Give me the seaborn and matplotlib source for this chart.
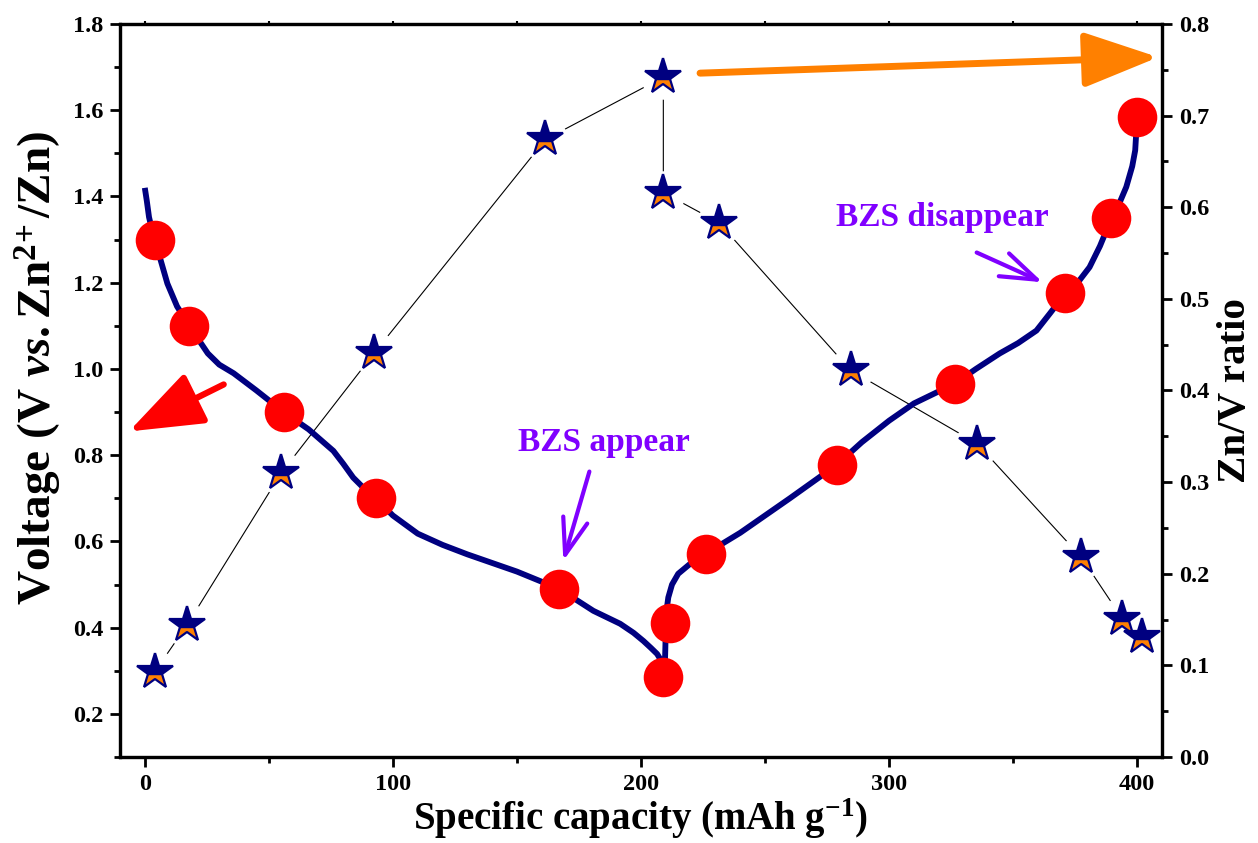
import numpy as np
import pandas as pd
import seaborn as sns
import matplotlib
matplotlib.use("Agg")
import matplotlib.pyplot as plt
from matplotlib.ticker import MultipleLocator, FormatStrFormatter

# ---------------- data ----------------
# voltage profile (discharge then charge)
curve_cap = [0, 0.8, 1.7, 2.8, 4, 6, 9.1, 13, 18, 22, 25.4, 30, 35.8, 45, 56, 66, 72, 76, 80,
             84, 88, 93, 100, 110, 120, 130, 150, 167, 180.8, 191.6, 197, 201, 204, 206.5,
             208.5, 209.5,
             209.8, 210, 210.3, 211, 212.5, 215, 219.8, 226, 240, 260, 279, 289, 300, 310,
             326.5, 335, 344.6, 352, 359.4, 365, 371, 376, 380.8, 385, 389.6, 392.5, 395.6,
             398, 399.2, 400]
curve_v = [1.42, 1.39, 1.352, 1.325, 1.30, 1.26, 1.198, 1.145, 1.10, 1.065, 1.036, 1.01,
           0.99, 0.95, 0.90, 0.86, 0.83, 0.81, 0.78, 0.748, 0.725, 0.70, 0.66, 0.618, 0.592,
           0.57, 0.53, 0.49, 0.439, 0.409, 0.388, 0.369, 0.353, 0.339, 0.32, 0.29,
           0.35, 0.40, 0.44, 0.47, 0.50, 0.525, 0.548, 0.571, 0.62, 0.70, 0.778, 0.83, 0.88,
           0.92, 0.966, 1.0, 1.036, 1.06, 1.089, 1.13, 1.175, 1.20, 1.236, 1.285, 1.349,
           1.38, 1.422, 1.47, 1.507, 1.585]

# sampled points (red circles)
point_cap = [4, 18, 56, 93, 167, 209, 211.5, 226, 279, 326.5, 371, 389.6, 400]
point_v = [1.30, 1.10, 0.90, 0.70, 0.49, 0.286, 0.411, 0.571, 0.778, 0.966, 1.175, 1.349, 1.585]

# Zn/V ratio (stars)
ratio_cap = [4, 17, 55, 92.5, 161.5, 209, 209, 231.5, 284.5, 335.5, 377.5, 394, 402]
ratio_val = [0.093, 0.144, 0.310, 0.441, 0.674, 0.742, 0.616, 0.583, 0.422, 0.342, 0.218, 0.151, 0.131]

x_ticks = [0, 100, 200, 300, 400]
v_ticks = [0.2, 0.4, 0.6, 0.8, 1.0, 1.2, 1.4, 1.6, 1.8]
r_ticks = [0.0, 0.1, 0.2, 0.3, 0.4, 0.5, 0.6, 0.7, 0.8]

# ---------------- style ----------------
sns.set_style("ticks")
plt.rcParams["font.family"] = ["Liberation Serif", "DejaVu Serif"]
plt.rcParams["font.weight"] = "bold"
plt.rcParams["axes.labelweight"] = "bold"
plt.rcParams["text.color"] = "black"
plt.rcParams["axes.labelcolor"] = "black"
plt.rcParams["xtick.color"] = "black"
plt.rcParams["ytick.color"] = "black"
plt.rcParams["mathtext.fontset"] = "custom"
plt.rcParams["mathtext.rm"] = "Liberation Serif:bold"
plt.rcParams["mathtext.bf"] = "Liberation Serif:bold"
plt.rcParams["mathtext.it"] = "Liberation Serif:italic:bold"

NAVY = "#000080"
RED = "#FF0000"
ORANGE = "#FF8000"
PURPLE = "#8000FF"

fig = plt.figure(figsize=(12.58, 8.43), dpi=100)
ax = fig.add_axes([120 / 1258, 1 - 757 / 843, (1162 - 120) / 1258, (757 - 24) / 843])
ax2 = ax.twinx()
ax.set_zorder(ax2.get_zorder() + 1)
ax.patch.set_visible(False)

# ---------------- Zn/V ratio (right axis) ----------------
df_r = pd.DataFrame({"cap": ratio_cap, "ratio": ratio_val})
sns.lineplot(data=df_r, x="cap", y="ratio", ax=ax2, sort=False, estimator=None,
             color="black", linewidth=0.8, zorder=1)
sns.lineplot(data=df_r, x="cap", y="ratio", ax=ax2, sort=False, estimator=None,
             linestyle="none", marker="o", markersize=32, markerfacecolor="white",
             markeredgecolor="white", markeredgewidth=0, zorder=2)
sns.lineplot(data=df_r, x="cap", y="ratio", ax=ax2, sort=False, estimator=None,
             linestyle="none", marker="*", markersize=27, fillstyle="bottom",
             markerfacecolor=ORANGE, markerfacecoloralt=NAVY,
             markeredgecolor=NAVY, markeredgewidth=1.6, zorder=3)

# ---------------- voltage (left axis) ----------------
df_c = pd.DataFrame({"cap": curve_cap, "v": curve_v})
sns.lineplot(data=df_c, x="cap", y="v", ax=ax, sort=False, estimator=None,
             color=NAVY, linewidth=4.2, zorder=3, solid_capstyle="butt",
             solid_joinstyle="round")
df_p = pd.DataFrame({"cap": point_cap, "v": point_v})
sns.scatterplot(data=df_p, x="cap", y="v", ax=ax, color=RED, s=28.5 ** 2,
                linewidth=0, zorder=4)

# ---------------- axes ----------------
ax.set_xlim(-10, 410)
ax.set_ylim(0.1, 1.8)
ax2.set_ylim(0.0, 0.8)
ax.set_xticks(x_ticks)
ax.set_yticks(v_ticks)
ax2.set_yticks(r_ticks)
ax.xaxis.set_minor_locator(MultipleLocator(50))
ax.yaxis.set_minor_locator(MultipleLocator(0.1))
ax2.yaxis.set_minor_locator(MultipleLocator(0.05))
ax.yaxis.set_major_formatter(FormatStrFormatter("%.1f"))
ax2.yaxis.set_major_formatter(FormatStrFormatter("%.1f"))

for a in (ax, ax2):
    for s in a.spines.values():
        s.set_linewidth(2.3)
        s.set_color("black")
ax.tick_params(axis="both", which="major", direction="out", length=7, width=2,
               labelsize=17.5, pad=5, colors="black")
ax.tick_params(axis="both", which="minor", direction="out", length=4, width=2)
ax.tick_params(axis="x", which="both", top=False)
# tiny ticks on the top spine
ax2.xaxis.set_visible(True)
ax2.set_xlabel("")
ax2.tick_params(axis="x", which="both", bottom=False, top=True, labelbottom=False,
                labeltop=False, direction="out", length=2.5, width=1.5)
ax2.tick_params(axis="y", which="major", direction="out", length=7, width=2,
                labelsize=17.5, pad=5, colors="black")
ax2.tick_params(axis="y", which="minor", direction="out", length=4, width=2)
for lab in ax.get_xticklabels() + ax.get_yticklabels() + ax2.get_yticklabels():
    lab.set_fontweight("bold")

ax.set_xlabel("Specific capacity (mAh g$^{-1}$)", fontsize=28, fontweight="bold", labelpad=1)
ax.set_ylabel("Voltage (V $\\mathit{vs.}$Zn$^{2\\!+}$/Zn)", fontsize=34, fontweight="bold")
ax.yaxis.set_label_coords(-0.054, 0.531)
ax2.set_ylabel("Zn/V ratio", fontsize=29.5, fontweight="bold", labelpad=6)

# ---------------- annotations ----------------
ax.annotate("", xy=(-6.4, 0.855), xytext=(31.8, 0.964),
            arrowprops=dict(arrowstyle="-|>,head_length=2.3,head_width=0.85",
                            color=RED, lw=4.5, shrinkA=0, shrinkB=0, mutation_scale=20),
            zorder=5, annotation_clip=False)
ax.annotate("", xy=(408.5, 1.723), xytext=(223.8, 1.686),
            arrowprops=dict(arrowstyle="-|>,head_length=2.3,head_width=0.85",
                            color=ORANGE, lw=5, shrinkA=0, shrinkB=0, mutation_scale=20),
            zorder=5, annotation_clip=False)
ax.annotate("", xy=(168.7, 0.555), xytext=(179.2, 0.762),
            arrowprops=dict(arrowstyle="->,head_length=1.3,head_width=0.45",
                            color=PURPLE, lw=3, shrinkA=0, shrinkB=0, mutation_scale=20),
            zorder=5)
ax.annotate("", xy=(361.9, 1.201), xytext=(335.3, 1.270),
            arrowprops=dict(arrowstyle="->,head_length=1.3,head_width=0.45",
                            color=PURPLE, lw=3, shrinkA=0, shrinkB=0, mutation_scale=20),
            zorder=5)
ax.text(185.2, 0.83, "BZS appear", color=PURPLE, fontsize=24, fontweight="bold",
        ha="center", va="center", zorder=5)
ax.text(321.3, 1.352, "BZS disappear", color=PURPLE, fontsize=24, fontweight="bold",
        ha="center", va="center", zorder=5)

fig.savefig("out.png", dpi=100)
